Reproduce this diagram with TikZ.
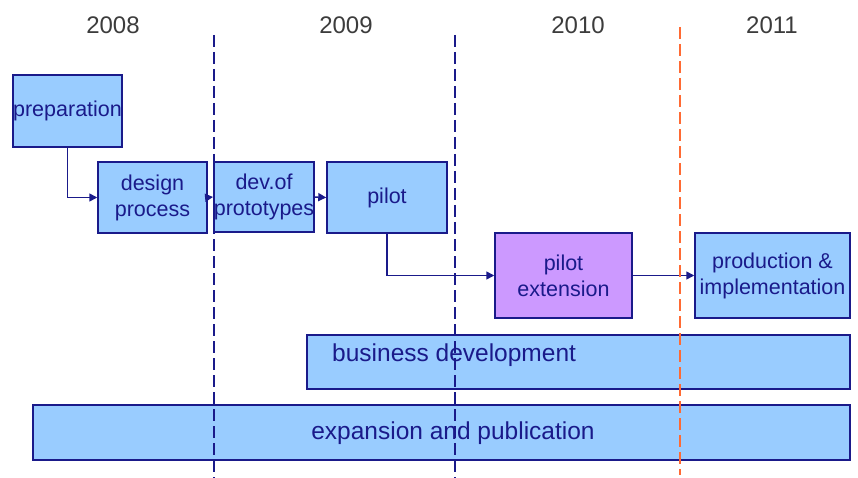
\documentclass[tikz,border=0pt]{standalone}
\usepackage{fontspec}
\setmainfont{Liberation Sans}
\usetikzlibrary{arrows.meta}
\definecolor{boxblue}{HTML}{99CCFF}
\definecolor{boxviolet}{HTML}{CC99FF}
\definecolor{ink}{HTML}{1A1A8A}
\definecolor{yeargray}{HTML}{3C3C3C}
\definecolor{cutoff}{HTML}{FF6A33}
\tikzset{
  stage/.style={draw=ink, line width=1.5pt, fill=boxblue, text=ink, inner sep=0pt,
    align=center, font=\fontsize{21.5}{26}\selectfont},
  bar/.style={draw=ink, line width=1.5pt, fill=boxblue, inner sep=0pt},
  bartext/.style={text=ink, inner sep=0pt, font=\fontsize{24.5}{28}\selectfont},
  year/.style={text=yeargray, inner sep=0pt, font=\fontsize{24}{28}\selectfont},
  flow/.style={draw=ink, line width=1.5pt, -{Triangle[length=8pt,width=8pt]}},
  yearline/.style={draw=ink, line width=2.8pt, dash pattern=on 12pt off 5pt},
  cutline/.style={draw=cutoff, line width=2.8pt, dash pattern=on 12pt off 5pt},
}
\begin{document}
\begin{tikzpicture}[x=1pt,y=-1pt]
\useasboundingbox (0,0) rectangle (858,478);

% year headings
\node[year] (y2008) at (113,25) {2008};
\node[year] (y2009) at (346,25) {2009};
\node[year] (y2010) at (578,25) {2010};
\node[year] (y2011) at (772,25) {2011};

% long-running activities
\node[bar, minimum width=543pt, minimum height=54pt] (bizdev) at (578.5,362) {};
\node[bartext, anchor=west] (bizdevtxt) at (332,355) {business development};
\node[bar, minimum width=817pt, minimum height=55pt] (expand) at (441.5,432.5) {};
\node[bartext] (expandtxt) at (453,433) {expansion and publication};

% project stages
\node[stage, minimum width=109pt, minimum height=72pt] (prep) at (67.5,111) {preparation};
\node[stage, minimum width=109pt, minimum height=71pt] (design) at (152.5,197.5) {design\\process};
\node[stage, minimum width=100pt, minimum height=70pt] (dev) at (264,197) {dev.of\\prototypes};
\node[stage, minimum width=120pt, minimum height=71pt] (pilot) at (387,197.5) {pilot};
\node[stage, fill=boxviolet, minimum width=137pt, minimum height=85pt] (pext) at (563.5,275.5) {pilot\\extension};
\node[stage, minimum width=155pt, minimum height=85pt] (prod) at (772.5,275.5) {production \&\\implementation};

% sequence of stages
\draw[flow] (prep.south) |- (design.west);
\draw[flow] (design.east) -- (dev.west);
\draw[flow] (dev.east) -- (pilot.west);
\draw[flow] (pilot.south) |- (pext.west);
\draw[flow] (pext.east) -- (prod.west);

% year boundaries
\coordinate (b1t) at (214,35);  \coordinate (b1b) at (214,478);
\coordinate (b2t) at (455,35);  \coordinate (b2b) at (455,478);
\coordinate (b3t) at (680,27);  \coordinate (b3b) at (680,475);
\draw[yearline] (b1t) -- (b1b);
\draw[yearline] (b2t) -- (b2b);
\draw[cutline] (b3t) -- (b3b);
\end{tikzpicture}
\end{document}
